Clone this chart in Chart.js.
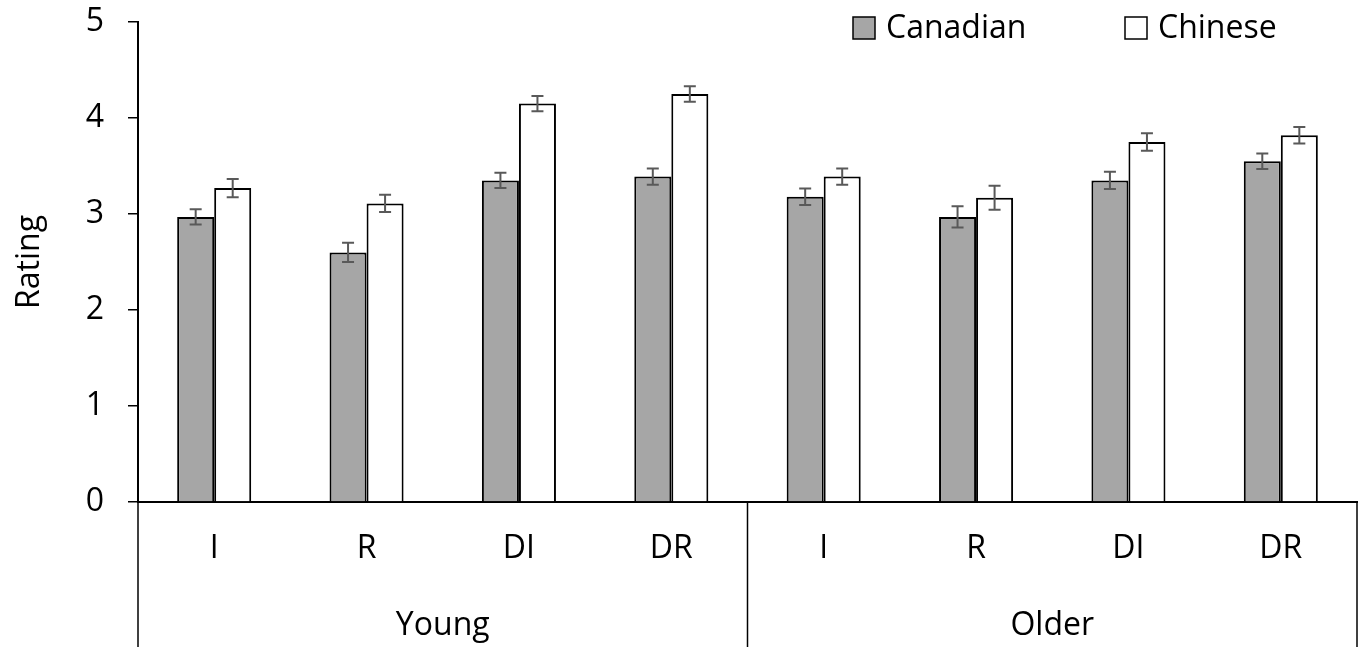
<!DOCTYPE html>
<html>
<head>
<meta charset="utf-8">
<title>Rating by group</title>
<script src="https://cdn.jsdelivr.net/npm/chart.js@4/dist/chart.umd.min.js"></script>
<style>
  html, body { margin: 0; padding: 0; background: #fff; }
  #wrap { width: 1359px; height: 647px; position: relative; }
</style>
</head>
<body>
<div id="wrap"><canvas id="rating-chart"></canvas></div>
<script>
'use strict';

// *************** DATA
let conditions = ['I', 'R', 'DI', 'DR', 'I', 'R', 'DI', 'DR'];
let ageGroups = ['Young', 'Older'];
let canadianMeans = [2.97, 2.60, 3.35, 3.39, 3.18, 2.97, 3.35, 3.55];
let canadianErrors = [0.08, 0.10, 0.08, 0.085, 0.085, 0.11, 0.09, 0.08];
let chineseMeans = [3.27, 3.11, 4.15, 4.25, 3.39, 3.17, 3.75, 3.82];
let chineseErrors = [0.095, 0.09, 0.08, 0.08, 0.085, 0.125, 0.09, 0.085];
let yTicks = [0, 1, 2, 3, 4, 5];

// *************** STYLE
const FONT = '"Open Sans", Lato, sans-serif';
const FONT_SIZE = 32;

// *************** PLUGINS

// error bars on top of each bar
let errorBars = {
  id: 'errorBars',
  afterDatasetsDraw(chart) {
    let ctx = chart.ctx;
    let yScale = chart.scales.y;
    ctx.save();
    ctx.strokeStyle = '#595959';
    ctx.lineWidth = 2;
    chart.data.datasets.forEach((ds, di) => {
      let meta = chart.getDatasetMeta(di);
      meta.data.forEach((bar, i) => {
        let v = ds.data[i];
        let e = ds.errors[i];
        let yTop = yScale.getPixelForValue(v + e);
        let yBot = yScale.getPixelForValue(v - e);
        let x = bar.x;
        let cap = 6;
        ctx.beginPath();
        ctx.moveTo(x, yTop);
        ctx.lineTo(x, yBot);
        ctx.moveTo(x - cap, yTop);
        ctx.lineTo(x + cap, yTop);
        ctx.moveTo(x - cap, yBot);
        ctx.lineTo(x + cap, yBot);
        ctx.stroke();
      });
    });
    ctx.restore();
  }
};

// vertical separators between the age groups, below the axis
let groupSeparators = {
  id: 'groupSeparators',
  afterDraw(chart) {
    let ctx = chart.ctx;
    let area = chart.chartArea;
    let xScale = chart.scales.x;
    let perGroup = conditions.length / ageGroups.length;
    let step = xScale.getPixelForValue(1) - xScale.getPixelForValue(0);
    ctx.save();
    ctx.strokeStyle = '#000';
    ctx.lineWidth = 1.5;
    for (let g = 0; g <= ageGroups.length; g++) {
      let x = xScale.getPixelForValue(g * perGroup) - step / 2;
      ctx.beginPath();
      ctx.moveTo(x, area.bottom);
      ctx.lineTo(x, chart.height);
      ctx.stroke();
    }
    ctx.restore();
  }
};

// legend inside the plot, top right
let insideLegend = {
  id: 'insideLegend',
  afterDraw(chart) {
    let ctx = chart.ctx;
    let area = chart.chartArea;
    let starts = [area.right - 504, area.right - 232];
    ctx.save();
    ctx.font = FONT_SIZE + 'px ' + FONT;
    ctx.textBaseline = 'middle';
    chart.data.datasets.forEach((ds, i) => {
      let x = starts[i];
      let y = 28;
      ctx.fillStyle = ds.backgroundColor;
      ctx.fillRect(x, y - 11, 22, 22);
      ctx.strokeStyle = '#000';
      ctx.lineWidth = 1.5;
      ctx.strokeRect(x, y - 11, 22, 22);
      ctx.fillStyle = '#000';
      ctx.fillText(ds.label, x + 33, y + 1);
    });
    ctx.restore();
  }
};

// *************** CHART
let ctx = document.getElementById('rating-chart');

let chartObj = {
  type: 'bar',
  data: {
    labels: conditions,
    datasets: [{
      label: 'Canadian',
      data: canadianMeans,
      errors: canadianErrors,
      backgroundColor: '#a6a6a6',
      borderColor: '#000',
      borderWidth: 2
    },
    {
      label: 'Chinese',
      data: chineseMeans,
      errors: chineseErrors,
      backgroundColor: '#ffffff',
      borderColor: '#000',
      borderWidth: 2
    }]
  },
  options: {
    responsive: true,
    maintainAspectRatio: false,
    animation: false,
    layout: { padding: { top: 22, right: 2, left: 0, bottom: 0 } },
    categoryPercentage: 0.486,
    barPercentage: 1.0,
    plugins: {
      legend: { display: false },
      tooltip: { enabled: false }
    },
    scales: {
      x: {
        type: 'category',
        position: 'bottom',
        grid: { display: false },
        border: { display: true, color: '#000', width: 2 },
        ticks: {
          color: '#000',
          font: { family: FONT, size: FONT_SIZE },
          padding: 20,
          maxRotation: 0,
          autoSkip: false
        },
        afterFit(scale) {
          scale.height = 75;
          scale.paddingLeft = 0;
          scale.paddingRight = 0;
        }
      },
      x2: {
        type: 'category',
        position: 'bottom',
        labels: ageGroups,
        offset: true,
        grid: { display: false },
        border: { display: false },
        ticks: {
          color: '#000',
          font: { family: FONT, size: FONT_SIZE },
          padding: 22,
          maxRotation: 0
        },
        afterFit(scale) {
          scale.height = 70;
          scale.paddingLeft = 0;
          scale.paddingRight = 0;
        }
      },
      y: {
        min: 0,
        max: 5,
        afterBuildTicks(scale) {
          scale.ticks = yTicks.map(v => ({ value: v }));
        },
        grid: {
          drawOnChartArea: false,
          drawTicks: true,
          tickLength: 10,
          color: '#000',
          lineWidth: 1.5
        },
        border: { display: true, color: '#000', width: 2 },
        ticks: {
          color: '#000',
          font: { family: FONT, size: FONT_SIZE },
          padding: 24
        },
        title: {
          display: true,
          text: 'Rating',
          color: '#000',
          font: { family: FONT, size: FONT_SIZE },
          padding: { top: 11, bottom: 20 }
        },
        afterFit(scale) {
          scale.width = 138;
          scale.paddingTop = 0;
          scale.paddingBottom = 0;
        }
      }
    }
  },
  plugins: [errorBars, groupSeparators, insideLegend]
};

new Chart(ctx, chartObj);
</script>
</body>
</html>
